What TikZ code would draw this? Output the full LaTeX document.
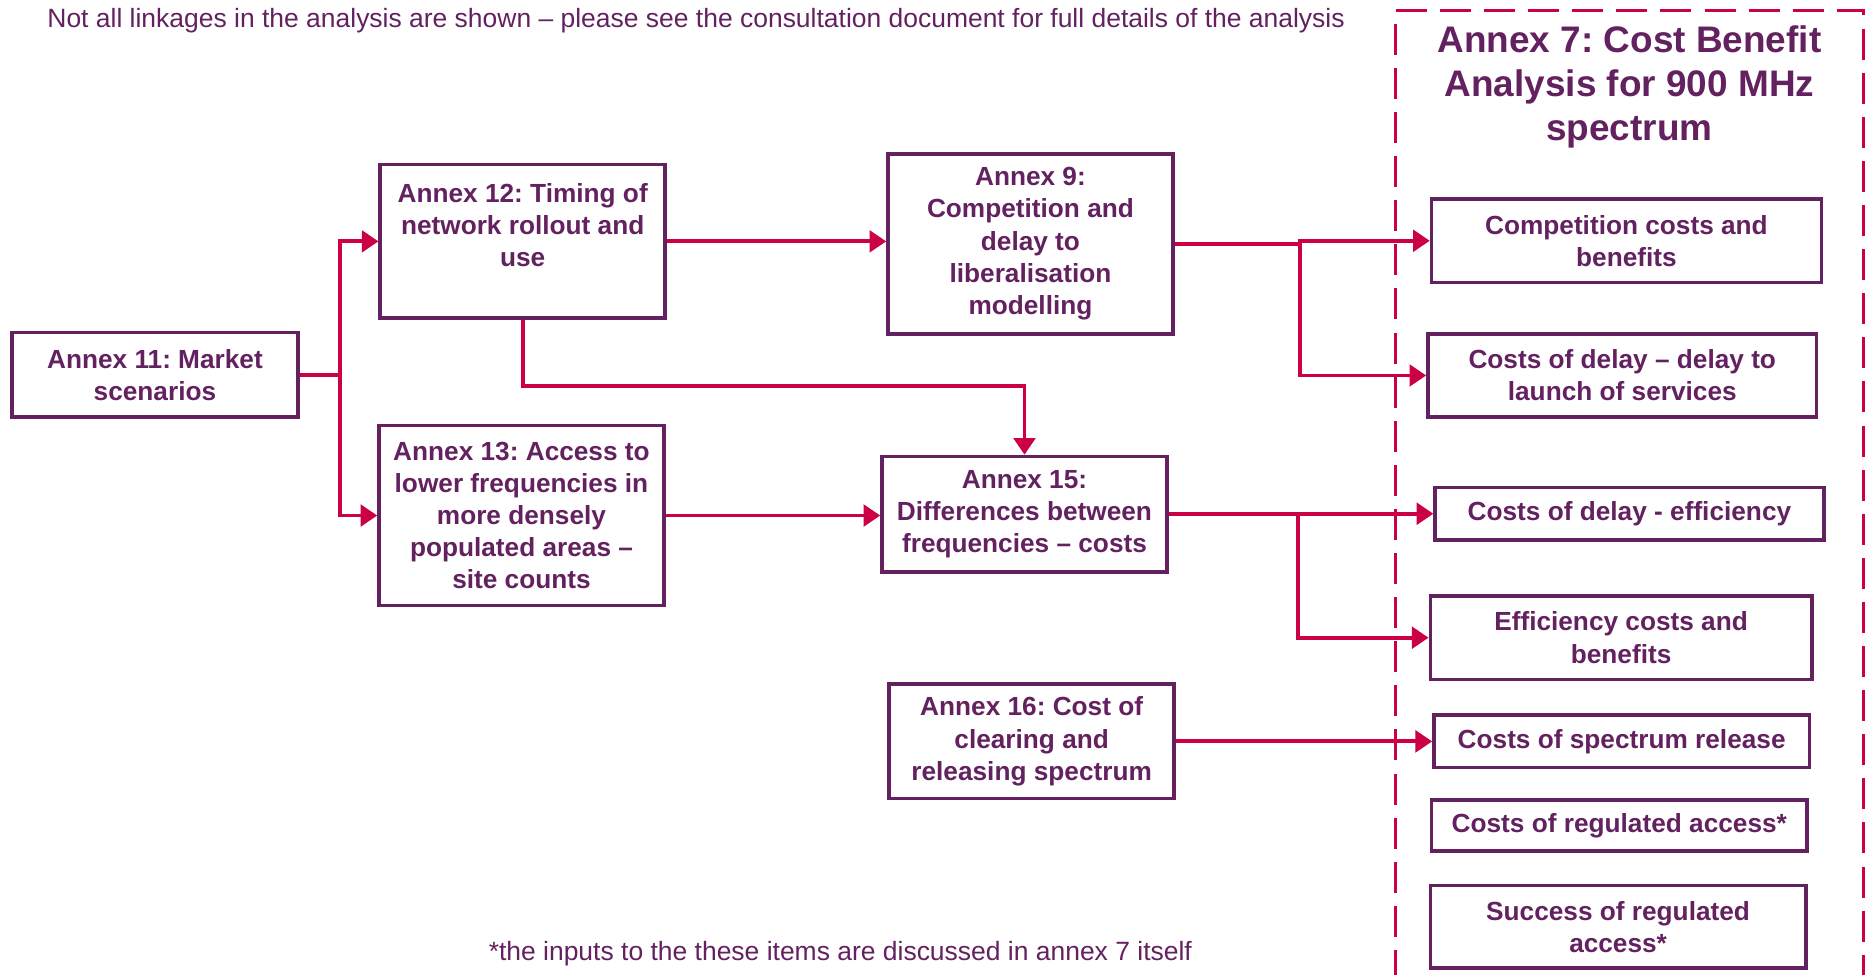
\documentclass[tikz,border=0pt]{standalone}
\usepackage{fontspec}
\setmainfont{Liberation Sans}
\usetikzlibrary{arrows.meta}
\definecolor{purp}{RGB}{99,33,96}
\definecolor{crim}{RGB}{204,0,68}
\frenchspacing
\begin{document}
\begin{tikzpicture}[x=1pt,y=-1pt,
  box/.style={draw=purp, line width=3pt, text=purp, font=\fontsize{22}{27}\selectfont\bfseries, align=center, inner sep=0pt},
  conn/.style={draw=crim, line width=3.3pt},
  arr/.style={conn, -{Triangle[length=14pt,width=18pt]}},
  note/.style={text=purp, font=\fontsize{22.2}{26}\selectfont, inner sep=0pt},
  frame/.style={draw=crim, line width=2.5pt, dash pattern=on 26pt off 11pt}
]
\useasboundingbox (0,0) rectangle (1568,818);

% notes
\node[note] (topnote) at (584,17) {Not all linkages in the analysis are shown – please see the consultation document for full details of the analysis};
\node[note] (botnote) at (705,800) {*the inputs to the these items are discussed in annex 7 itself};

% dashed frame of annex 7
\draw[frame] (1171,20) -- (1171,818);
\draw[frame] (1171,9) -- (1563,9) -- (1563,818);
\node[text=purp, font=\fontsize{31}{37}\selectfont\bfseries, align=center, inner sep=0pt] (t7) at (1367,73) {Annex 7: Cost Benefit\\Analysis for 900 MHz\\spectrum};

% left boxes
\node[box, minimum width=240pt, minimum height=71pt] (a11) at (130,314.5) {Annex 11: Market\\scenarios};
\node[box, minimum width=239pt, minimum height=129pt] (a12) at (438.5,202.5) {Annex 12: Timing of\\network rollout and\\use\\\mbox{}};
\node[box, minimum width=239pt, minimum height=151pt] (a13) at (437.5,432.5) {Annex 13: Access to\\lower frequencies in\\more densely\\populated areas –\\site counts};
\node[box, minimum width=239pt, minimum height=151pt] (a9) at (864.5,204.5) {Annex 9:\\Competition and\\delay to\\liberalisation\\modelling};
\node[box, minimum width=239pt, minimum height=97pt] (a15) at (859.5,431.5) {Annex 15:\\Differences between\\frequencies – costs};
\node[box, minimum width=239pt, minimum height=96pt] (a16) at (865.5,622) {Annex 16: Cost of\\clearing and\\releasing spectrum};

% right boxes
\node[box, minimum width=327pt, minimum height=70pt] (r1) at (1364.5,202) {Competition costs and\\benefits};
\node[box, minimum width=326pt, minimum height=70pt] (r2) at (1361,315) {Costs of delay – delay to\\launch of services};
\node[box, minimum width=326pt, minimum height=44pt] (r3) at (1367,431) {Costs of delay - efficiency};
\node[box, minimum width=320pt, minimum height=70pt] (r4) at (1360,535) {Efficiency costs and\\benefits};
\node[box, minimum width=315pt, minimum height=44pt] (r5) at (1360.5,622) {Costs of spectrum release};
\node[box, minimum width=315pt, minimum height=43pt] (r6) at (1358.5,692.5) {Costs of regulated access*};
\node[box, minimum width=315pt, minimum height=69pt] (r7) at (1357.5,777.5) {Success of regulated\\access*};

% connectors
\coordinate (s11) at (285,314.5);
\draw[conn] (a11.east) -- (s11);
\draw[arr] (s11) |- (a12.west);
\draw[arr] (s11) |- (a13.west);

\draw[arr] (a12.east) -- (a12.east -| a9.west);
\coordinate (k12) at (0,324);
\draw[arr] (a12.south) |- (a15.north |- k12) -- (a15.north);
\draw[arr] (a13.east) -- (a13.east -| a15.west);

\coordinate (s9) at (1091,204.5);
\draw[conn] (a9.east) -- (s9);
\draw[arr] (s9) |- (r1.west);
\draw[arr] (s9) |- (r2.west);

\coordinate (s15) at (1089,431.5);
\draw[conn] (a15.east) -- (s15);
\draw[arr] (s15) |- (r3.west);
\draw[arr] (s15) |- (r4.west);

\draw[arr] (a16.east) -- (a16.east -| r5.west);
\end{tikzpicture}
\end{document}
